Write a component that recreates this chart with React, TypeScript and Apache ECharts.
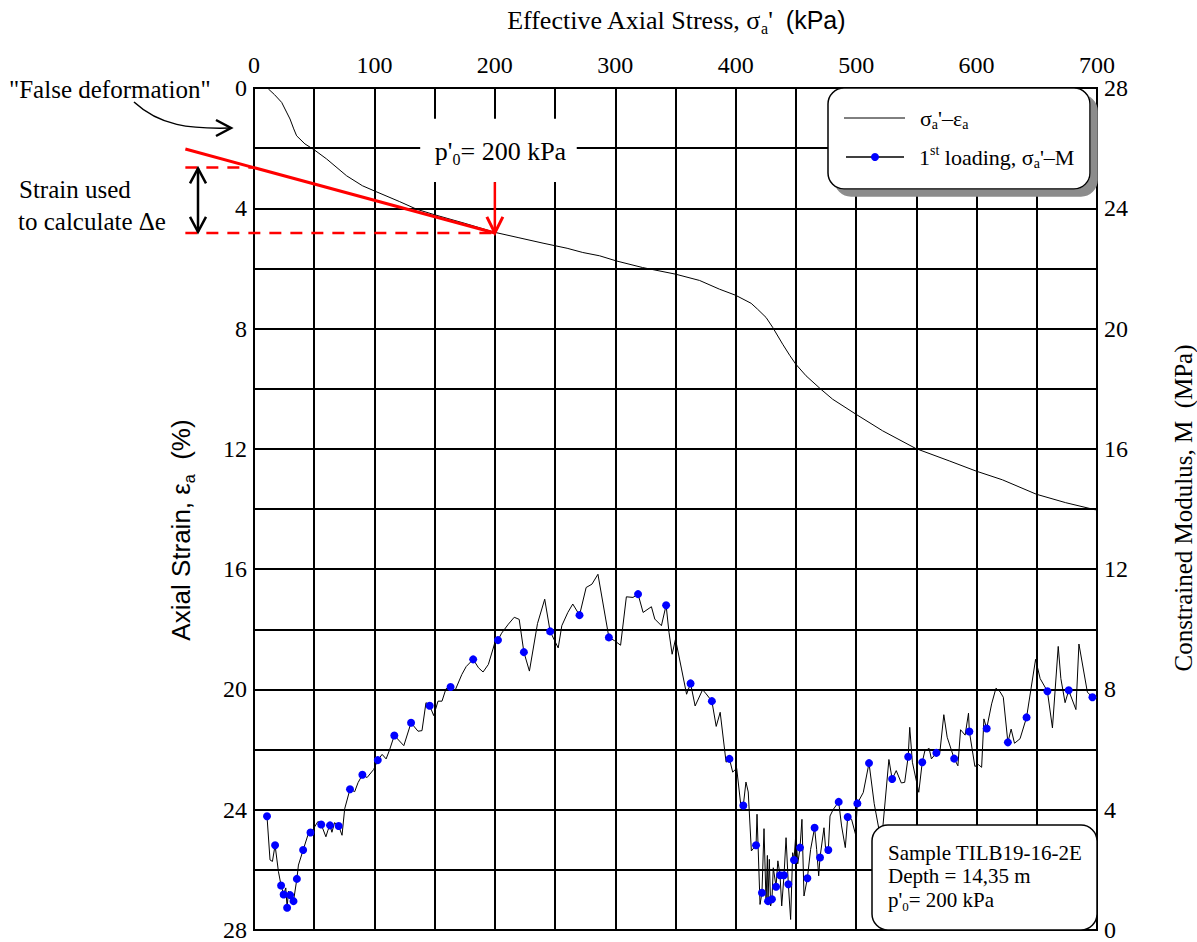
import React, { useEffect, useRef } from 'react';
import * as echarts from 'echarts';

// ---------- Data ----------
// Effective axial stress (kPa) vs axial strain (%)
const strainStress = [11.9, 17, 23, 27, 29.9, 33, 35.4, 42.3, 49.8, 60.3, 76.9, 90, 99.8, 121, 135, 149.5, 175, 200, 220, 240, 260, 273, 287, 300.8, 322.6, 350, 370, 386.5, 399.8, 412.8, 418, 425.2, 430.7, 439, 445, 449.8, 458.4, 470.8, 480.5, 499.9, 522, 549.6, 577.3, 599.7, 621.5, 649.7, 674, 698.9];
const strainValue = [0.03, 0.22, 0.48, 0.8, 1.03, 1.36, 1.59, 1.86, 2.05, 2.36, 2.92, 3.25, 3.42, 3.78, 4.03, 4.21, 4.5, 4.8, 4.98, 5.16, 5.33, 5.47, 5.58, 5.75, 5.97, 6.19, 6.4, 6.69, 6.89, 7.16, 7.35, 7.63, 7.96, 8.52, 8.9, 9.18, 9.57, 10.02, 10.35, 10.85, 11.4, 11.99, 12.4, 12.74, 13.03, 13.51, 13.79, 14.03];

// Effective axial stress (kPa) vs constrained modulus M (MPa), 1st loading
const mStress = [10.8, 13.3, 15.3, 17.5, 20.3, 22.5, 24.6, 26.4, 27.5, 28.6, 30.0, 32.8, 35.6, 36.9, 40.8, 44.7, 46.9, 49.4, 53.1, 55.8, 59.7, 61.4, 63.1, 64.7, 66.9, 70.3, 73.1, 75.3, 79.7, 83.6, 86.4, 90.0, 93.9, 99.4, 102.8, 106.4, 109.7, 112.5, 116.5,
  124.4, 130.4, 136.2, 139.5, 142.8, 145.9, 149.2, 152.8, 156.1, 159.4, 163.2, 167.1, 172.6, 176.2, 182.0, 186.4, 190.2, 194.6, 199.6, 202.6, 205.6, 211.2, 216.1, 220.2, 224.1, 228.7, 235.4, 241.4, 245.9,
  252.6, 255.6, 260.6, 264.7, 270.3, 275.8, 280.6, 285.6, 294.7, 299.4, 304.4, 309.2, 314.7, 318.9, 323.1, 330.0, 332.8, 338.3, 342.2, 344.6, 347.2, 350.0, 355.0, 359.2, 362.5,
  366.3, 372.5, 375.5, 380.2, 383.8, 387.1, 392.0, 394.8, 397.5, 400.8, 404.1, 406.3, 408.5, 410.4, 413.0, 416.9, 417.7, 420.2, 421.8, 423.5, 425.2, 426.3, 426.8, 427.9, 429.0, 430.1, 431.2, 433.5, 435.0, 436.8, 438.2, 440.1, 441.8, 443.7, 445.6, 447.3, 448.4, 450.0, 451.5, 453.4, 455.0, 456.7, 459.5, 462.2, 465.5, 467.2, 468.9, 470.0, 473.3, 474.9, 476.9, 478.3, 481.0, 485.5, 487.9, 491.0, 493.0, 496.2, 499.5, 501.0, 505.9, 510.7, 515.0, 521.0,
  527.2, 529.9, 533.3, 537.5, 540.3, 543.2, 544.5, 546.7, 552.0, 554.9, 557.0, 560.6, 562.5, 566.6, 569.5, 572.8, 575.6, 581.4, 584.5, 586.7, 590.5, 593.3, 594.0, 598.6, 601.5, 604.2, 606.1, 608.4, 612.5, 616.1, 619.4, 622.2, 626.0, 628.7, 631.5, 636.1, 641.5, 649.0, 652.8, 658.8, 663.0, 667.8, 670.0, 673.5, 676.5, 682.5, 685.0, 692.0, 696.2];
const mModulus = [3.78, 2.33, 2.28, 2.82, 1.94, 1.48, 1.18, 1.40, 0.74, 1.29, 1.16, 0.96, 1.70, 2.16, 2.66, 3.15, 3.24, 3.37, 3.61, 3.51, 3.10, 3.32, 3.48, 3.25, 3.57, 3.46, 3.15, 4.03, 4.68, 4.60, 4.90, 5.16, 5.07, 5.34, 5.65, 5.84, 5.69, 5.98, 6.47,
  6.13, 6.89, 6.61, 6.63, 7.56, 7.46, 7.13, 7.61, 7.61, 8.02, 8.08, 7.98, 8.50, 8.76, 9.00, 8.72, 8.58, 8.83, 9.50, 9.64, 9.87, 10.17, 10.40, 10.33, 9.24, 8.61, 10.19, 11.00, 9.93,
  9.38, 10.12, 10.56, 10.84, 10.47, 11.39, 11.50, 11.83, 9.73, 9.62, 9.47, 11.08, 11.06, 11.17, 10.56, 10.75, 10.34, 10.12, 10.80, 9.90, 9.17, 9.67, 8.68, 7.84, 8.20,
  7.45, 7.99, 7.85, 7.61, 6.77, 7.24, 5.58, 5.69, 5.25, 5.38, 4.20, 4.14, 4.92, 4.59, 2.63, 2.82, 3.85, 0.85, 1.24, 3.37, 0.91, 2.48, 0.96, 2.35, 0.80, 1.02, 2.07, 1.44, 2.30, 1.82, 0.80, 1.82, 3.07, 1.52, 0.35, 2.57, 2.33, 3.24, 2.20, 2.74, 3.68, 1.13, 1.72, 2.68, 3.40, 2.68, 1.80, 2.41, 3.40, 2.57, 2.66, 3.79, 4.01, 4.26, 3.46, 2.74, 3.76, 3.68, 3.18, 4.21, 4.57, 5.55, 4.20, 2.90,
  5.67, 5.02, 5.30, 4.89, 4.91, 5.76, 6.74, 5.58, 4.58, 5.58, 5.95, 6.04, 5.69, 5.89, 5.90, 7.16, 6.41, 5.70, 5.46, 6.66, 6.48, 7.21, 6.60, 5.44, 5.50, 5.41, 7.02, 6.70, 7.52, 8.04, 7.93, 7.74, 6.24, 6.68, 6.21, 6.36, 7.07, 9.00, 8.36, 7.94, 6.72, 9.43, 8.36, 7.56, 7.97, 7.33, 9.51, 7.91, 7.74];
// 1 = measured point drawn with a blue marker
const mDot = [1, 0, 0, 1, 0, 1, 1, 0, 1, 0, 1, 1, 1, 0, 1, 0, 1, 0, 0, 1, 0, 0, 1, 0, 0, 1, 0, 0, 1, 0, 0, 1, 0, 0, 1, 0, 0, 0, 1,
  0, 1, 0, 0, 0, 1, 0, 0, 0, 0, 1, 0, 0, 0, 1, 0, 0, 0, 0, 1, 0, 0, 0, 0, 1, 0, 0, 0, 1,
  0, 0, 0, 0, 1, 0, 0, 0, 1, 0, 0, 0, 0, 1, 0, 0, 0, 0, 1, 0, 0, 0, 0, 0, 1,
  0, 0, 0, 1, 0, 0, 0, 1, 0, 0, 0, 1, 0, 0, 0, 1, 0, 0, 1, 0, 0, 0, 1, 0, 0, 1, 0, 1, 0, 1, 0, 1, 0, 1, 0, 0, 1, 0, 0, 1, 0, 0, 1, 0, 1, 0, 0, 1, 0, 0, 1, 0, 0, 1, 0, 0, 1, 0, 0, 1, 0, 1, 0, 0,
  0, 1, 0, 0, 0, 1, 0, 0, 0, 1, 0, 0, 0, 1, 0, 0, 0, 1, 0, 0, 0, 0, 1, 0, 0, 0, 0, 1, 0, 0, 0, 0, 1, 0, 0, 0, 1, 0, 0, 1, 0, 0, 0, 0, 1, 0, 0, 0, 1];

const seriesNames = ["σa'–εa", "1st loading, σa'–M"];

// Annotation values (data units)
const p0 = 200; // kPa
const tangentStart = [-57, 2.03]; // [kPa, %]
const strainAtP0 = 4.82; // %
const strainAtZero = 2.64; // %
const labelBoxStress = [138, 268];
const labelBoxStrain = [1.02, 3.13];

const SERIF = 'Liberation Serif, Times New Roman, serif';
const SANS = 'Liberation Sans, Arial, sans-serif';

export default function App() {
  const ref = useRef<HTMLDivElement>(null);

  useEffect(() => {
    if (!ref.current) return;
    const chart = echarts.init(ref.current, null, { renderer: 'svg' });

    const axisLabelStyle = { fontFamily: SERIF, fontSize: 24, color: '#000' };
    const mData = mStress.map((x, i) =>
      mDot[i] ? { value: [x, mModulus[i]] } : { value: [x, mModulus[i]], symbol: 'none' }
    );

    chart.setOption({
      animation: false,
      backgroundColor: '#fff',
      textStyle: { fontFamily: SERIF },
      grid: { left: 254, top: 88, width: 843, height: 842, show: true, borderColor: '#000', borderWidth: 2, backgroundColor: 'transparent' },
      xAxis: {
        type: 'value', position: 'top', min: 0, max: 700, interval: 50,
        axisLine: { show: true, onZero: false, lineStyle: { color: '#000', width: 2 } },
        axisTick: { show: false },
        axisLabel: { ...axisLabelStyle, margin: 11, formatter: (v: number) => (v % 100 === 0 ? String(v) : '') },
        splitLine: { show: true, lineStyle: { color: '#000', width: 2 } },
      },
      yAxis: [
        {
          type: 'value', inverse: true, min: 0, max: 28, interval: 2, position: 'left',
          axisLine: { show: true, onZero: false, lineStyle: { color: '#000', width: 2 } },
          axisTick: { show: false },
          axisLabel: { ...axisLabelStyle, margin: 7, formatter: (v: number) => (v % 4 === 0 ? String(v) : '') },
          splitLine: { show: true, lineStyle: { color: '#000', width: 2 } },
        },
        {
          type: 'value', min: 0, max: 28, interval: 4, position: 'right',
          axisLine: { show: true, onZero: false, lineStyle: { color: '#000', width: 2 } },
          axisTick: { show: false },
          axisLabel: { ...axisLabelStyle, margin: 7 },
          splitLine: { show: false },
        },
      ],
      series: [
        {
          name: seriesNames[0], type: 'line', xAxisIndex: 0, yAxisIndex: 0,
          data: strainStress.map((x, i) => [x, strainValue[i]]),
          symbol: 'none', lineStyle: { color: '#000', width: 1 }, z: 3,
        },
        {
          name: seriesNames[1], type: 'line', xAxisIndex: 0, yAxisIndex: 1,
          data: mData, symbol: 'circle', symbolSize: 8, showAllSymbol: true,
          itemStyle: { color: '#0000ff' }, lineStyle: { color: '#000', width: 1 }, z: 3,
        },
      ],
    });

    const px = (x: number, y: number) =>
      chart.convertToPixel({ xAxisIndex: 0, yAxisIndex: 0 }, [x, y]) as number[];

    const tS = px(tangentStart[0], tangentStart[1]);
    const tE = px(p0, strainAtP0);
    const upL = px(tangentStart[0], strainAtZero);
    const upR = px(0, strainAtZero);
    const loL = px(tangentStart[0], strainAtP0);
    const boxA = px(labelBoxStress[0], labelBoxStrain[0]);
    const boxB = px(labelBoxStress[1], labelBoxStrain[1]);
    const arrowTop = px(p0, labelBoxStrain[1]);

    const richOf = (size: number) => ({
      n: { fontFamily: SERIF, fontSize: size, color: '#000', lineHeight: size + 5 },
      s: { fontFamily: SERIF, fontSize: Math.round(size * 0.62), color: '#000', verticalAlign: 'bottom', lineHeight: Math.round(size * 0.62) + 1 },
      sup: { fontFamily: SERIF, fontSize: Math.round(size * 0.62), color: '#000', verticalAlign: 'top', lineHeight: Math.round(size * 0.62) + 1 },
    });
    const legendRich = richOf(22);
    const boxRich = richOf(21);
    const big = (size: number, family: string) => ({
      n: { fontFamily: family, fontSize: size, color: '#000', lineHeight: size + 6 },
      s: { fontFamily: family, fontSize: Math.round(size * 0.62), color: '#000', verticalAlign: 'bottom', lineHeight: Math.round(size * 0.62) + 1 },
      k: { fontFamily: SANS, fontSize: size - 1, color: '#000', lineHeight: size + 6 },
    });

    const red = '#ff0000';
    const Z = 100;

    chart.setOption({
      graphic: {
        elements: [
          // Axis titles
          {
            type: 'text', x: 676, y: 20, z: Z,
            style: { text: "{n|Effective Axial Stress, σ}{s|a}{n|'}{n|  }{k|(kPa)}", rich: big(26, SERIF), align: 'center', verticalAlign: 'middle' },
          },
          {
            type: 'text', x: 181, y: 530, rotation: Math.PI / 2, z: Z,
            style: { text: '{n|Axial Strain, ε}{s|a}{n|  (%)}', rich: big(26, SANS), align: 'center', verticalAlign: 'middle' },
          },
          {
            type: 'text', x: 1183, y: 508, rotation: Math.PI / 2, z: Z,
            style: { text: '{n|Constrained Modulus, M  (MPa)}', rich: big(25, SERIF), align: 'center', verticalAlign: 'middle' },
          },
          // p'0 label with white background
          {
            type: 'rect', z: Z,
            shape: { x: boxA[0], y: boxA[1], width: boxB[0] - boxA[0], height: boxB[1] - boxA[1] },
            style: { fill: '#fff' },
          },
          {
            type: 'text', x: (boxA[0] + boxB[0]) / 2 + 2, y: (boxA[1] + boxB[1]) / 2 + 1, z: Z + 1,
            style: { text: "{n|p'}{s|0}{n|= 200 kPa}", rich: big(26, SERIF), align: 'center', verticalAlign: 'middle' },
          },
          // red vertical arrow at p'0
          {
            type: 'line', z: Z, shape: { x1: arrowTop[0], y1: arrowTop[1], x2: tE[0], y2: tE[1] - 2 },
            style: { stroke: red, lineWidth: 2.5 },
          },
          {
            type: 'polyline', z: Z,
            shape: { points: [[tE[0] - 8, tE[1] - 16], [tE[0], tE[1]], [tE[0] + 8, tE[1] - 16]] },
            style: { stroke: red, lineWidth: 3, fill: 'none' },
          },
          // red tangent line
          {
            type: 'line', z: 60, shape: { x1: tS[0], y1: tS[1], x2: tE[0], y2: tE[1] },
            style: { stroke: red, lineWidth: 3 },
          },
          // red dashed lines
          {
            type: 'line', z: 60, shape: { x1: upL[0], y1: upL[1], x2: upR[0], y2: upR[1] },
            style: { stroke: red, lineWidth: 2.5, lineDash: [12, 9] },
          },
          {
            type: 'line', z: 60, shape: { x1: loL[0], y1: loL[1], x2: tE[0], y2: tE[1] },
            style: { stroke: red, lineWidth: 2.5, lineDash: [12, 9] },
          },
          // black double arrow
          {
            type: 'line', z: Z, shape: { x1: 198, y1: upL[1] + 1, x2: 198, y2: loL[1] - 1 },
            style: { stroke: '#000', lineWidth: 2.5 },
          },
          {
            type: 'polyline', z: Z,
            shape: { points: [[190, upL[1] + 16], [198, upL[1] + 1], [206, upL[1] + 16]] },
            style: { stroke: '#000', lineWidth: 2.5, fill: 'none' },
          },
          {
            type: 'polyline', z: Z,
            shape: { points: [[190, loL[1] - 16], [198, loL[1] - 1], [206, loL[1] - 16]] },
            style: { stroke: '#000', lineWidth: 2.5, fill: 'none' },
          },
          {
            type: 'text', x: 19, y: 189, z: Z,
            style: { text: 'Strain used', fontFamily: SERIF, fontSize: 25, fill: '#000', verticalAlign: 'middle' },
          },
          {
            type: 'text', x: 18, y: 221, z: Z,
            style: { text: 'to calculate Δe', fontFamily: SERIF, fontSize: 25, fill: '#000', verticalAlign: 'middle' },
          },
          // "False deformation"
          {
            type: 'text', x: 9, y: 89, z: Z,
            style: { text: '"False deformation"', fontFamily: SERIF, fontSize: 25, fill: '#000', verticalAlign: 'middle' },
          },
          {
            type: 'bezierCurve', z: Z,
            shape: { x1: 134, y1: 102, x2: 230, y2: 128, cpx1: 160, cpy1: 126, cpx2: 190, cpy2: 129 },
            style: { stroke: '#000', lineWidth: 1.5, fill: 'none' },
          },
          {
            type: 'polyline', z: Z,
            shape: { points: [[216, 120], [231, 128], [216, 136]] },
            style: { stroke: '#000', lineWidth: 2.5, fill: 'none' },
          },
          // Legend box
          {
            type: 'group', x: 828, y: 88, z: Z,
            children: [
              {
                type: 'rect', z: Z,
                shape: { x: 0, y: 0, width: 262, height: 101, r: 16 },
                style: { fill: '#fff', stroke: '#000', lineWidth: 1.5, shadowColor: '#8c8c8c', shadowOffsetX: 7, shadowOffsetY: 7, shadowBlur: 1 },
              },
              { type: 'line', z: Z + 1, shape: { x1: 16, y1: 30, x2: 77, y2: 30 }, style: { stroke: '#000', lineWidth: 1 } },
              {
                type: 'text', z: Z + 1, x: 92, y: 30,
                style: { text: "{n|σ}{s|a}{n|'–ε}{s|a}", rich: legendRich, verticalAlign: 'middle' },
              },
              { type: 'line', z: Z + 1, shape: { x1: 18, y1: 69, x2: 76, y2: 69 }, style: { stroke: '#000', lineWidth: 1.5 } },
              { type: 'circle', z: Z + 2, shape: { cx: 47, cy: 69, r: 4 }, style: { fill: '#0000ff' } },
              {
                type: 'text', z: Z + 1, x: 91, y: 69,
                style: { text: "{n|1}{sup|st}{n| loading, σ}{s|a}{n|'–M}", rich: legendRich, verticalAlign: 'middle' },
              },
            ],
          },
          // Sample info box
          {
            type: 'group', x: 872, y: 825, z: Z,
            children: [
              {
                type: 'rect', z: Z,
                shape: { x: 0, y: 0, width: 225, height: 105, r: 16 },
                style: { fill: '#fff', stroke: '#000', lineWidth: 1.5 },
              },
              {
                type: 'text', z: Z + 1, x: 16, y: 28,
                style: { text: '{n|Sample TILB19-16-2E}', rich: boxRich, verticalAlign: 'middle' },
              },
              {
                type: 'text', z: Z + 1, x: 16, y: 51,
                style: { text: '{n|Depth = 14,35 m}', rich: boxRich, verticalAlign: 'middle' },
              },
              {
                type: 'text', z: Z + 1, x: 16, y: 75,
                style: { text: "{n|p'}{s|0}{n|= 200 kPa}", rich: boxRich, verticalAlign: 'middle' },
              },
            ],
          },
        ],
      },
    });

    return () => chart.dispose();
  }, []);

  return (
    <div
      ref={ref}
      style={{ position: 'fixed', left: 0, top: 0, width: 1197, height: 942, background: '#fff' }}
    />
  );
}
